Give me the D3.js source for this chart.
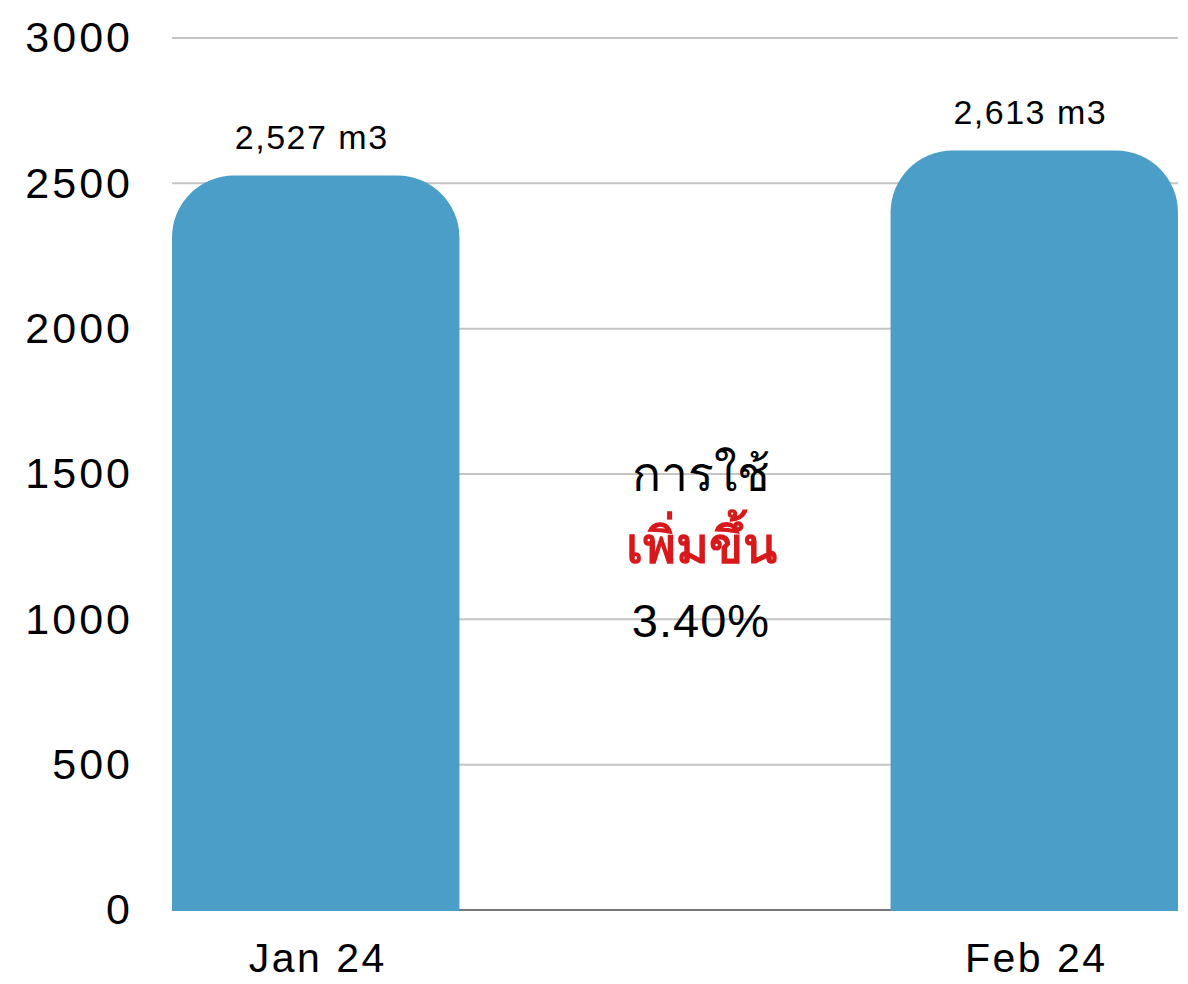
<!DOCTYPE html>
<html>
<head>
<meta charset="utf-8">
<script src="https://cdn.jsdelivr.net/npm/d3@7"></script>
<style>
  body { margin: 0; background: #fff; }
  text { font-family: "Liberation Sans", Arial, "Noto Sans", sans-serif; }
</style>
</head>
<body>
<script>
const months = ['Jan 24', 'Feb 24'];
const usage = [2527, 2613];
const valueLabels = ['2,527 m3', '2,613 m3'];
const yTicks = [0, 500, 1000, 1500, 2000, 2500, 3000];
const noteLines = ['การใช้', 'เพิ่มขึ้น', '3.40%'];

var width = 1188, height = 984;
var plotLeft = 172, plotRight = 1178, plotTop = 38, plotBottom = 910;

var svg = d3.select("body")
    .append("svg")
    .attr("width", width)
    .attr("height", height);

var x = d3.scaleBand()
    .domain(months)
    .range([plotLeft, plotRight])
    .paddingInner(0.6)
    .paddingOuter(0);

var y = d3.scaleLinear()
    .domain([0, 3000])
    .range([plotBottom, plotTop]);

// gridlines
svg.append("g")
    .selectAll("line")
    .data(yTicks.filter(d => d > 0))
    .enter()
    .append("line")
    .attr("x1", plotLeft)
    .attr("x2", plotRight)
    .attr("y1", d => y(d))
    .attr("y2", d => y(d))
    .attr("stroke", "#c4c4c4")
    .attr("stroke-width", 2);

// y axis labels
var yAxis = svg.append("g")
    .attr("transform", "translate(133,0)")
    .call(d3.axisLeft(y).tickValues(yTicks).tickFormat(d3.format("d")).tickSize(0).tickPadding(0));
yAxis.select(".domain").remove();
yAxis.selectAll("text")
    .style("font-size", "43px")
    .style("letter-spacing", "3px")
    .attr("fill", "#000")
    .attr("font-family", "'Liberation Sans', Arial, sans-serif");

// baseline
svg.append("line")
    .attr("x1", plotLeft).attr("x2", plotRight)
    .attr("y1", y(0)).attr("y2", y(0))
    .attr("stroke", "#777").attr("stroke-width", 2);

// bars with rounded top corners
function barPath(x0, w, yTop, yBot, r) {
    r = Math.min(r, w / 2, yBot - yTop);
    return "M" + x0 + "," + yBot +
        "V" + (yTop + r) +
        "A" + r + "," + r + " 0 0 1 " + (x0 + r) + "," + yTop +
        "H" + (x0 + w - r) +
        "A" + r + "," + r + " 0 0 1 " + (x0 + w) + "," + (yTop + r) +
        "V" + yBot + "Z";
}

svg.selectAll(".bar")
    .data(usage)
    .enter()
    .append("path")
    .attr("class", "bar")
    .attr("d", (d, i) => barPath(x(months[i]), x.bandwidth(), y(d), y(0) + 1, 62))
    .attr("fill", "#4a9ec8");

// value labels
svg.selectAll(".val")
    .data(usage)
    .enter()
    .append("text")
    .attr("class", "val")
    .attr("x", (d, i) => x(months[i]) + x.bandwidth() / 2 - 4)
    .attr("y", d => y(d) - 26)
    .attr("text-anchor", "middle")
    .style("font-size", "34px")
    .style("letter-spacing", "1.5px")
    .text((d, i) => valueLabels[i]);

// x axis labels
svg.selectAll(".cat")
    .data(months)
    .enter()
    .append("text")
    .attr("class", "cat")
    .attr("x", d => x(d) + x.bandwidth() / 2 + 2)
    .attr("y", 972)
    .attr("text-anchor", "middle")
    .style("font-size", "41px")
    .style("letter-spacing", "2.5px")
    .text(d => d);

// centre note
var noteY = [491, 563, 637];
svg.selectAll(".note")
    .data(noteLines)
    .enter()
    .append("text")
    .attr("class", "note")
    .attr("x", 701)
    .attr("y", (d, i) => noteY[i])
    .attr("text-anchor", "middle")
    .style("font-size", (d, i) => i === 1 ? "50px" : (i === 0 ? "48px" : "47px"))
    .style("letter-spacing", (d, i) => i === 2 ? "1px" : "0px")
    .style("font-weight", (d, i) => i === 1 ? "bold" : "normal")
    .attr("fill", (d, i) => i === 1 ? "#d7191c" : "#000")
    .text(d => d);
</script>
</body>
</html>
